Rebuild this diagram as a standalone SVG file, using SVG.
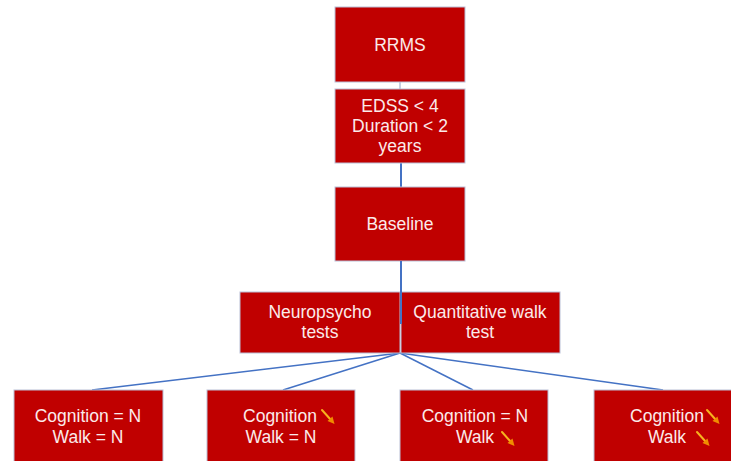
<svg xmlns="http://www.w3.org/2000/svg" width="731" height="461" viewBox="0 0 731 461">
<defs>
<style>
.box{fill:#C00000;stroke:#b9bfd6;stroke-width:1}
.t{font-family:"Liberation Sans",Arial,sans-serif;font-size:17.5px;fill:#FBEAEA;text-anchor:middle}
.c{stroke:#4472C4;stroke-width:2;fill:none}
.f{stroke:#4472C4;stroke-width:1.5;fill:none}
</style>
<g id="dn">
<line x1="0" y1="0" x2="9" y2="10" stroke="#F6B21E" stroke-width="2" stroke-linecap="round"/>
<path d="M12.5 14 L5.5 11 L10.5 6.5 Z" fill="#F08C00"/>
</g>
</defs>
<rect width="731" height="461" fill="#ffffff"/>
<g id="connectors">
<line x1="400" y1="82" x2="400" y2="89" stroke="#8f9fc4" stroke-width="1"/>
<line class="c" x1="401" y1="163" x2="401" y2="187"/>
<line class="f" x1="400" y1="353" x2="92" y2="390"/>
<line class="f" x1="400" y1="353" x2="283" y2="390"/>
<line class="f" x1="400" y1="353" x2="473" y2="390"/>
<line class="f" x1="400" y1="353" x2="663" y2="390"/>
</g>
<g id="rrms">
<rect class="box" x="335" y="7" width="130" height="75"/>
<text class="t" x="400" y="51">RRMS</text>
</g>
<g id="edss">
<rect class="box" x="335" y="89" width="130" height="74"/>
<text class="t" x="400" y="112">EDSS &lt; 4</text>
<text class="t" x="400" y="132">Duration &lt; 2</text>
<text class="t" x="400" y="152">years</text>
</g>
<g id="baseline">
<rect class="box" x="335" y="187" width="130" height="74"/>
<text class="t" x="400" y="230">Baseline</text>
</g>
<g id="neuropsycho">
<rect class="box" x="240" y="292" width="160" height="61"/>
<text class="t" x="320" y="318">Neuropsycho</text>
<text class="t" x="320" y="338">tests</text>
</g>
<g id="walktest">
<rect class="box" x="401" y="292" width="159" height="61"/>
<text class="t" x="480" y="318">Quantitative walk</text>
<text class="t" x="480" y="338">test</text>
</g>
<line class="c" x1="401" y1="261" x2="401" y2="324"/>
<g id="out1">
<rect class="box" x="14" y="390" width="149" height="80"/>
<text class="t" x="88" y="422">Cognition = N</text>
<text class="t" x="88" y="443">Walk = N</text>
</g>
<g id="out2">
<rect class="box" x="207" y="390" width="148" height="80"/>
<text class="t" x="280" y="422">Cognition</text>
<use href="#dn" x="322" y="410"/>
<text class="t" x="281" y="443">Walk = N</text>
</g>
<g id="out3">
<rect class="box" x="400" y="390" width="148" height="80"/>
<text class="t" x="475" y="422">Cognition = N</text>
<text class="t" x="475" y="443">Walk</text>
<use href="#dn" x="502" y="432"/>
</g>
<g id="out4">
<rect class="box" x="594" y="390" width="149" height="80"/>
<text class="t" x="667" y="422">Cognition</text>
<use href="#dn" x="707" y="410"/>
<text class="t" x="667" y="443">Walk</text>
<use href="#dn" x="697" y="432"/>
</g>
</svg>
